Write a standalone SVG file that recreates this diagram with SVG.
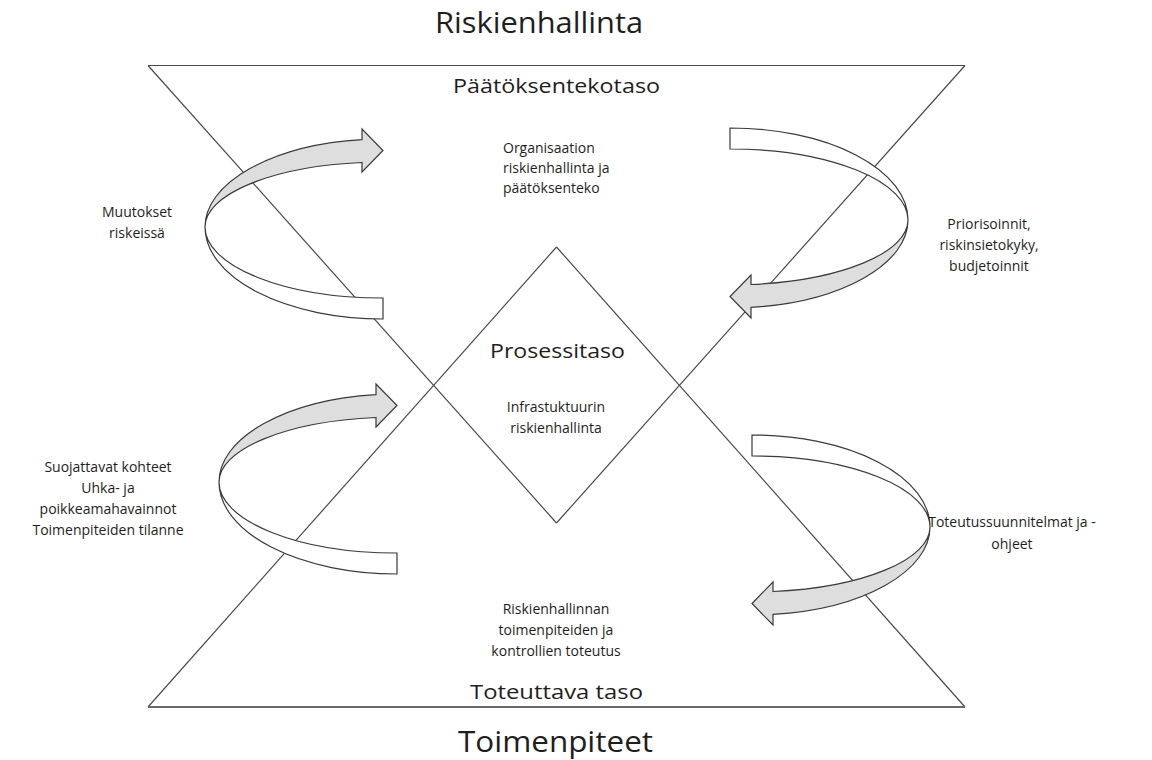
<svg xmlns="http://www.w3.org/2000/svg" xmlns:xlink="http://www.w3.org/1999/xlink" width="1152" height="760" viewBox="0 0 1152 760">
  <style>
    text { font-family: "Open Sans", "Noto Sans", "Liberation Sans", sans-serif; fill: #1e1e1e; }
    .title { font-size: 29px; text-anchor: middle; }
    .level { font-size: 20px; text-anchor: middle; }
    .note { font-size: 14px; text-anchor: middle; }
    .noteL { font-size: 14px; text-anchor: start; }
    .edge { fill: none; stroke: #4a4a4a; stroke-width: 1.2; }
    .base { fill: none; stroke: #6a6a6a; stroke-width: 2; }
    .front { fill: #dedede; stroke: #3a3a3a; stroke-width: 1.2; stroke-linejoin: miter; }
    .back { fill: #ffffff; stroke: #3a3a3a; stroke-width: 1.2; }
  </style>
  <defs>
    <!-- curved ribbon arrow, ellipse centre at origin, head pointing right on top -->
    <g id="curved-arrow">
      <path class="back" d="M -178,0 A 178 92 0 0 0 0,92 L 0,71 A 178 71 0 0 1 -178,0 Z"/>
      <path class="front" d="M -178,0 A 178 88 0 0 1 -21,-87.4 L -21,-98 L 0,-76.5 L -21,-55 L -21,-64.5 A 178 65 0 0 0 -178,0 Z"/>
    </g>
  </defs>

  <rect width="1152" height="760" fill="#ffffff"/>

  <!-- hourglass frame: two overlapping triangles, the overlap forms the diamond -->
  <g id="frame">
    <line class="edge" x1="148" y1="65.5" x2="965" y2="65.5"/>
    <line class="edge" x1="148" y1="65.5" x2="556.5" y2="523"/>
    <line class="edge" x1="965" y1="65.5" x2="556.5" y2="523"/>
    <line class="edge" x1="148" y1="707" x2="556.5" y2="247"/>
    <line class="edge" x1="965" y1="707" x2="556.5" y2="247"/>
    <line class="base" x1="148" y1="707" x2="965" y2="707"/>
  </g>

  <!-- connectors: curved feedback arrows -->
  <g id="connectors">
    <use xlink:href="#curved-arrow" href="#curved-arrow" transform="translate(383,227)"/>
    <use xlink:href="#curved-arrow" href="#curved-arrow" transform="translate(730,220) rotate(180)"/>
    <use xlink:href="#curved-arrow" href="#curved-arrow" transform="translate(397,482)"/>
    <use xlink:href="#curved-arrow" href="#curved-arrow" transform="translate(752,527) rotate(180)"/>
  </g>

  <g id="title-top">
    <text class="title" x="539" y="33" textLength="208" lengthAdjust="spacingAndGlyphs">Riskienhallinta</text>
  </g>

  <g id="decision-level">
    <text class="level" x="556.5" y="93" textLength="207" lengthAdjust="spacingAndGlyphs">Päätöksentekotaso</text>
    <text class="noteL" x="503" y="153">Organisaation</text>
    <text class="noteL" x="503" y="173">riskienhallinta ja</text>
    <text class="noteL" x="503" y="193">päätöksenteko</text>
  </g>

  <g id="process-level">
    <text class="level" x="557.5" y="358" textLength="135" lengthAdjust="spacingAndGlyphs">Prosessitaso</text>
    <text class="note" x="556" y="412">Infrastuktuurin</text>
    <text class="note" x="556" y="433">riskienhallinta</text>
  </g>

  <g id="implementation-level">
    <text class="note" x="556" y="614">Riskienhallinnan</text>
    <text class="note" x="556" y="635">toimenpiteiden ja</text>
    <text class="note" x="556" y="656">kontrollien toteutus</text>
    <text class="level" x="556.5" y="699" textLength="173" lengthAdjust="spacingAndGlyphs">Toteuttava taso</text>
  </g>

  <g id="title-bottom">
    <text class="title" x="555.5" y="752" textLength="195" lengthAdjust="spacingAndGlyphs">Toimenpiteet</text>
  </g>

  <g id="label-changes">
    <text class="note" x="137" y="217">Muutokset</text>
    <text class="note" x="137" y="238">riskeissä</text>
  </g>

  <g id="label-priorities">
    <text class="note" x="989" y="229">Priorisoinnit,</text>
    <text class="note" x="989" y="250">riskinsietokyky,</text>
    <text class="note" x="989" y="271">budjetoinnit</text>
  </g>

  <g id="label-observations">
    <text class="note" x="108" y="472">Suojattavat kohteet</text>
    <text class="note" x="108" y="493">Uhka- ja</text>
    <text class="note" x="108" y="514">poikkeamahavainnot</text>
    <text class="note" x="108" y="535">Toimenpiteiden tilanne</text>
  </g>

  <g id="label-plans">
    <text class="note" x="1012" y="527">Toteutussuunnitelmat ja -</text>
    <text class="note" x="1012" y="549">ohjeet</text>
  </g>
</svg>
